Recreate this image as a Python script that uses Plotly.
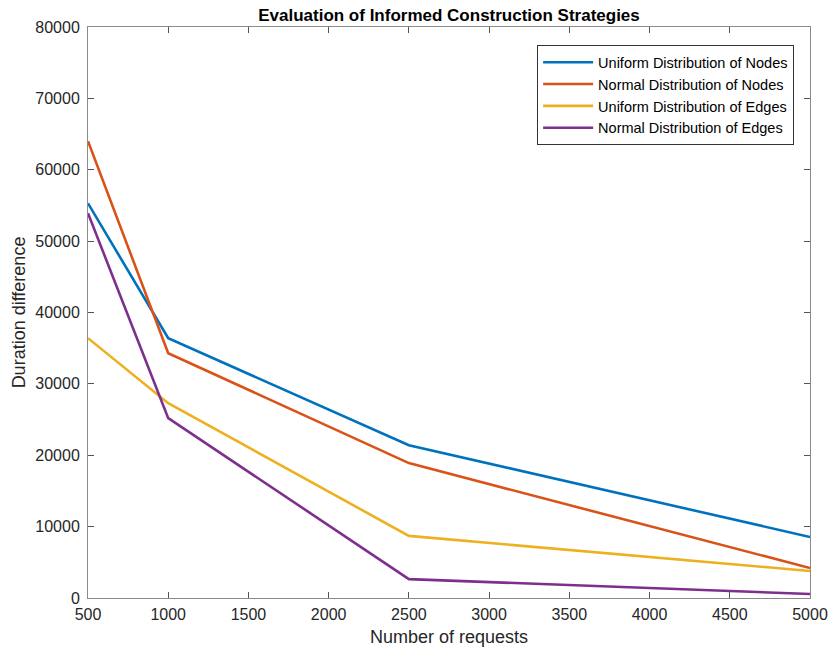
import plotly.graph_objects as go

requests = [500, 1000, 2500, 5000]
uniform_nodes = [55300, 36400, 21400, 8550]
normal_nodes = [64000, 34300, 18900, 4200]
uniform_edges = [36400, 27300, 8700, 3780]
normal_edges = [53900, 25200, 2650, 560]

names = ["Uniform Distribution of Nodes", "Normal Distribution of Nodes",
         "Uniform Distribution of Edges", "Normal Distribution of Edges"]
colors = ["#0072BD", "#D95319", "#EDB120", "#7E2F8E"]
series = [uniform_nodes, normal_nodes, uniform_edges, normal_edges]

x_ticks = [500, 1000, 1500, 2000, 2500, 3000, 3500, 4000, 4500, 5000]
y_ticks = [0, 10000, 20000, 30000, 40000, 50000, 60000, 70000, 80000]
y_ticktext = [str(v) for v in y_ticks]
x_ticktext = [str(v) for v in x_ticks]

fig = go.Figure()
for n, c, s in zip(names, colors, series):
    fig.add_trace(go.Scatter(x=requests, y=s, mode="lines", name=n,
                             line=dict(color=c, width=2.6)))

font_family = "Liberation Sans, Arial, sans-serif"
axis_common = dict(showgrid=False, zeroline=False, showline=True, mirror="ticks",
                   linecolor="#8a8a8a", linewidth=1, ticks="inside", ticklen=6,
                   tickcolor="#555555", tickfont=dict(size=16, color="#262626"),
                   automargin=False)

fig.update_layout(
    width=830, height=651,
    margin=dict(l=88, r=20, t=27, b=53),
    paper_bgcolor="white", plot_bgcolor="white",
    font=dict(family=font_family, color="#262626"),
    title=dict(text="<b>Evaluation of Informed Construction Strategies</b>",
               x=0.5, xref="paper", y=1, yref="paper", yanchor="bottom",
               pad=dict(b=6), font=dict(size=17, color="black")),
    xaxis=dict(range=[500, 5000], tickvals=x_ticks, ticktext=x_ticktext,
               ticklabelstandoff=2,
               title=dict(text="Number of requests", font=dict(size=18), standoff=8),
               **axis_common),
    yaxis=dict(range=[0, 80000], tickvals=y_ticks, ticktext=y_ticktext,
               ticklabelstandoff=4,
               title=dict(text="Duration difference", font=dict(size=18), standoff=4),
               **axis_common),
    legend=dict(x=0.978, y=0.968, xanchor="right", yanchor="top",
                bgcolor="white", bordercolor="#333333", borderwidth=1,
                font=dict(size=14.5, color="black"), tracegroupgap=0,
                itemwidth=50),
    showlegend=True,
)

fig.write_html("out.html")
